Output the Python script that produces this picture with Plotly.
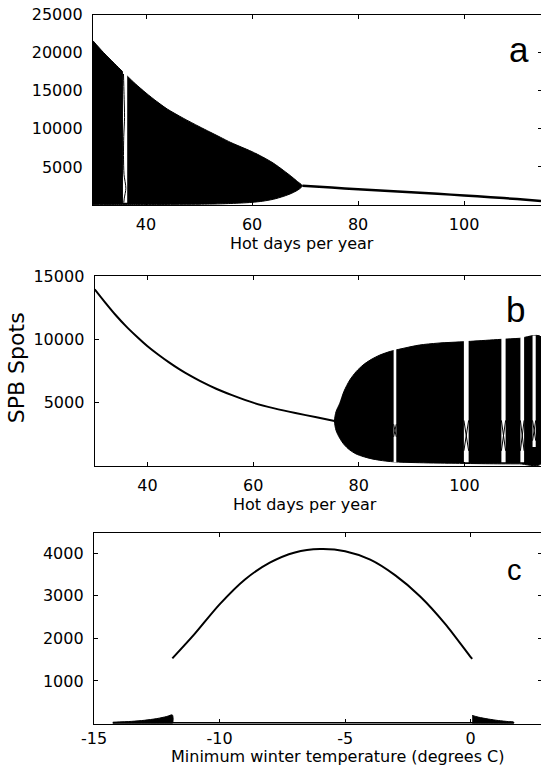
import plotly.graph_objects as go

# ---------------- Panel a (Hot days per year) ----------------
a_chaos_x = [30, 32, 34, 35.6, 36.5, 38, 40, 42, 44, 47, 50, 52, 54, 56, 58, 60, 62, 64, 66, 67.5, 68.6, 69.2, 69.5]
a_chaos_upper = [21550, 20000, 18600, 17500, 16900, 15900, 14700, 13600, 12600, 11400, 10300, 9600, 8900, 8200,
                 7600, 7000, 6300, 5500, 4500, 3700, 3060, 2750, 2530]
a_chaos_lower = [80, 80, 80, 80, 80, 80, 80, 80, 80, 90, 100, 120, 150, 200, 260, 350, 500, 750, 1150, 1550,
                 1950, 2250, 2530]
a_stable_x = [69.5, 75, 80, 85, 90, 95, 100, 105, 110, 114.5]
a_stable_y = [2530, 2290, 2060, 1860, 1660, 1460, 1260, 1030, 780, 530]
a_window_left = [35.65]
a_window_right = [36.45]
a_window_top = [17600]
a_window_bottom = [300]
a_orbit_x = [35.75, 35.85, 35.95, 35.8, 35.75, 35.85, 36.2, 35.9, 35.8]
a_orbit_y = [17200, 14500, 11500, 9000, 6500, 4000, 2200, 900, 300]

# ---------------- Panel b (Hot days per year) ----------------
b_stable_x = [30, 32, 34, 36, 38, 40, 42, 44, 46, 48, 50, 53, 56, 60, 64, 68, 72, 75.4]
b_stable_y = [13950, 12900, 11900, 11000, 10200, 9450, 8800, 8200, 7650, 7150, 6700, 6100, 5600, 5000,
              4550, 4180, 3850, 3550]
b_chaos_x = [75.4, 75.7, 76.4, 77.2, 78.3, 79.5, 80.8, 82.3, 84, 86, 88, 91.5, 95, 100.3, 104, 107, 110.4, 114.5]
b_chaos_upper = [3550, 4300, 4950, 5900, 6790, 7450, 7970, 8400, 8760, 9050, 9250, 9550, 9700, 9820, 9920,
                 10000, 10080, 10200]
b_chaos_lower = [3550, 2800, 2190, 1700, 1260, 950, 750, 580, 450, 350, 300, 260, 230, 200, 180, 170, 170, 170]
b_window_left = [86.6, 99.9, 107.0, 110.6, 112.9]
b_window_right = [87.1, 100.8, 107.8, 111.3, 113.5]
b_window_top = [9300, 9950, 10150, 10250, 10300]
b_window_bottom = [300, 300, 300, 300, 1500]
b_cross_high = [3300, 3600, 3600, 3600, 3600]
b_cross_low = [2300, 1200, 1200, 1200, 2000]

# ---------------- Panel c (Minimum winter temperature) ----------------
c_curve_x = [-11.88, -11, -10, -9, -8, -7, -6, -5, -4, -3, -2, -1, 0, 0.06]
c_curve_y = [1530, 2100, 2800, 3380, 3780, 4020, 4100, 4050, 3850, 3480, 2980, 2330, 1560, 1520]
c_left_x = [-14.25, -13.5, -13, -12.5, -12.1, -11.88]
c_left_top = [30, 50, 75, 115, 165, 200]
c_right_x = [0.06, 0.3, 0.7, 1.1, 1.5, 1.71]
c_right_top = [190, 150, 105, 70, 45, 35]
c_base_x = [-14.25, 1.71]
c_base_y = [0, 0]

# tick labels
ab_xticks = [40, 60, 80, 100]
ab_xlabels = ["40", "60", "80", "100"]
a_yticks = [5000, 10000, 15000, 20000, 25000]
a_ylabels = ["5000", "10000", "15000", "20000", "25000"]
b_yticks = [5000, 10000, 15000]
b_ylabels = ["5000", "10000", "15000"]
c_xticks = [-15, -10, -5, 0]
c_xlabels = ["-15", "-10", "-5", "0"]
c_yticks = [1000, 2000, 3000, 4000]
c_ylabels = ["1000", "2000", "3000", "4000"]

W, H = 541, 774
FONT = "DejaVu Sans"

fig = go.Figure()


def band(xs, upper, lower, xa, ya, shape="spline"):
    fig.add_trace(go.Scatter(x=list(xs) + list(xs)[::-1], y=list(upper) + list(lower)[::-1],
                             mode="lines", fill="toself", fillcolor="black",
                             line=dict(color="black", width=1, shape=shape, smoothing=0.8),
                             xaxis=xa, yaxis=ya, showlegend=False, hoverinfo="skip"))


def windows(lefts, rights, tops, bottoms, xa, ya):
    for l, r, t, b in zip(lefts, rights, tops, bottoms):
        fig.add_trace(go.Scatter(x=[l, l, r, r, l], y=[b, t, t, b, b], mode="lines", fill="toself",
                                 fillcolor="white", line=dict(color="white", width=0),
                                 xaxis=xa, yaxis=ya, showlegend=False, hoverinfo="skip"))


def line(xs, ys, xa, ya, w=2, shape="spline"):
    fig.add_trace(go.Scatter(x=xs, y=ys, mode="lines",
                             line=dict(color="black", width=w, shape=shape, smoothing=0.8),
                             xaxis=xa, yaxis=ya, showlegend=False, hoverinfo="skip"))


# panel a
band(a_chaos_x, a_chaos_upper, a_chaos_lower, "x", "y")
windows(a_window_left, a_window_right, a_window_top, a_window_bottom, "x", "y")
line(a_orbit_x, a_orbit_y, "x", "y", 1)
line(a_stable_x, a_stable_y, "x", "y", 2.5)

# panel b
line(b_stable_x, b_stable_y, "x2", "y2", 2)
band(b_chaos_x, b_chaos_upper, b_chaos_lower, "x2", "y2")
windows(b_window_left, b_window_right, b_window_top, b_window_bottom, "x2", "y2")
for l, r, hi, lo in zip(b_window_left, b_window_right, b_cross_high, b_cross_low):
    line([l, r, None, r, l], [hi, lo, None, hi, lo], "x2", "y2", 1, "linear")

# panel c
line(c_curve_x, c_curve_y, "x3", "y3", 2)
band(c_left_x, c_left_top, [0] * len(c_left_x), "x3", "y3")
band(c_right_x, c_right_top, [0] * len(c_right_x), "x3", "y3")
line(c_base_x, c_base_y, "x3", "y3", 3, "linear")

# dummy traces for right-side tick axes
for ya, xa in (("y4", "x"), ("y5", "x2"), ("y6", "x3")):
    fig.add_trace(go.Scatter(x=[], y=[], xaxis=xa, yaxis=ya, showlegend=False))

tickfont = dict(family=FONT, size=16, color="black")


def xax(domain, rng, ticks, labels, anchor, standoff):
    return dict(domain=domain, range=rng, tickvals=ticks, ticktext=labels, ticks="inside", ticklen=4,
                tickwidth=1, tickcolor="black", showline=True, linecolor="black", linewidth=1.3,
                mirror="ticks", showgrid=False, zeroline=False, tickfont=tickfont, anchor=anchor,
                automargin=False, ticklabelstandoff=standoff)


def yax(domain, rng, ticks, labels, anchor):
    return dict(domain=domain, range=rng, tickvals=ticks, ticktext=labels, ticks="inside", ticklen=4,
                tickwidth=1, tickcolor="black", showline=True, linecolor="black", linewidth=1.3,
                mirror=False, showgrid=False, zeroline=False, tickfont=tickfont, anchor=anchor,
                automargin=False, ticklabelstandoff=6)


def yright(over, rng, ticks, anchor):
    return dict(overlaying=over, side="right", anchor=anchor, range=rng, tickvals=ticks, ticks="inside",
                ticklen=3, tickwidth=1, tickcolor="black", showline=False, showgrid=False,
                zeroline=False, showticklabels=False, automargin=False)


def py(p):
    return 1 - p / H


fig.update_layout(
    width=W, height=H, autosize=False,
    margin=dict(l=0, r=0, t=0, b=0, pad=0),
    paper_bgcolor="white", plot_bgcolor="white",
    showlegend=False,
    xaxis=xax([93 / W, 1], [30, 114.5], ab_xticks, ab_xlabels, "y", 5),
    yaxis=yax([py(205), py(14.5)], [0, 25000], a_yticks, a_ylabels, "x"),
    xaxis2=xax([94.7 / W, 1], [30, 114.5], ab_xticks, ab_xlabels, "y2", 5),
    yaxis2=yax([py(466), py(276)], [0, 15000], b_yticks, b_ylabels, "x2"),
    xaxis3=xax([94 / W, 1], [-15, 2.8], c_xticks, c_xlabels, "y3", 0),
    yaxis3=yax([py(723.5), py(533.3)], [0, 4470], c_yticks, c_ylabels, "x3"),
    yaxis4=yright("y", [0, 25000], a_yticks, "x"),
    yaxis5=yright("y2", [0, 15000], b_yticks, "x2"),
    yaxis6=yright("y3", [0, 4470], c_yticks, "x3"),
)

titlefont = dict(family=FONT, size=16, color="black")
annots = [
    dict(text="Hot days per year", x=302.4 / W, y=py(243.9), font=titlefont),
    dict(text="Hot days per year", x=305.4 / W, y=py(504.5), font=titlefont),
    dict(text="Minimum winter temperature (degrees C)", x=337.7 / W, y=py(756), font=titlefont),
    dict(text="SPB Spots", x=16.7 / W, y=py(367.5), textangle=-90, font=dict(family=FONT, size=22, color="black")),
    dict(text="a", x=518.7 / W, y=py(49), font=dict(family="Arial", size=35, color="black")),
    dict(text="b", x=515 / W, y=py(309), font=dict(family="Arial", size=35, color="black")),
    dict(text="c", x=514.5 / W, y=py(570.2), font=dict(family="Arial", size=29, color="black")),
]
for a in annots:
    a.update(xref="paper", yref="paper", showarrow=False, xanchor="center", yanchor="middle")
    fig.add_annotation(**a)

fig.write_html("out.html")
